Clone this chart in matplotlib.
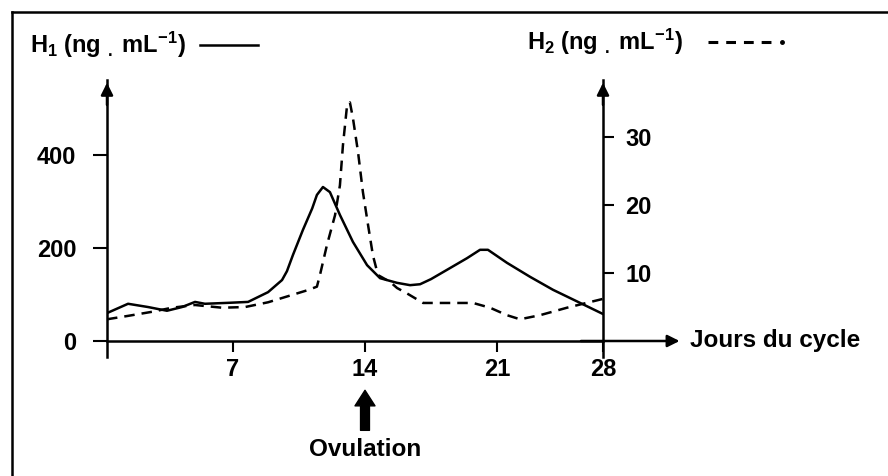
import numpy as np
import matplotlib
matplotlib.use('Agg')
import matplotlib.pyplot as plt
from matplotlib.lines import Line2D

plt.rcParams['font.family'] = ['Liberation Sans', 'DejaVu Sans']
plt.rcParams['font.weight'] = 'bold'
plt.rcParams['mathtext.fontset'] = 'custom'
plt.rcParams['mathtext.rm'] = 'Liberation Sans:bold'
plt.rcParams['mathtext.it'] = 'Liberation Sans:bold'
plt.rcParams['mathtext.bf'] = 'Liberation Sans:bold'

# jours du cycle -> H1 (courbe continue, axe gauche)
h1_days = [0, 1.17, 2.28, 3.33, 4.17, 4.89, 5.44, 6.72, 7.8, 8.86, 9.6, 9.86,
           10.18, 10.71, 11.2, 11.45, 11.77, 12.14, 12.67, 13.36, 14.11, 14.8,
           15.7, 16.39, 16.92, 17.5, 18.35, 19.41, 20.1, 20.52, 21.66, 23.18,
           24.7, 26.48, 28]
h1_vals = [60, 80, 73, 65, 73, 84, 80, 82, 84, 105, 131, 150,
           185, 239, 285, 314, 331, 320, 271, 213, 163, 135,
           125, 120, 122, 133, 153, 178, 196, 196, 168, 138,
           110, 82, 58]

# H2 (courbe pointillee, axe droit)
h2_days = [0, 1.17, 2.5, 3.61, 4.89, 6.39, 7.64, 8.86, 9.92, 10.98, 11.45,
           11.61, 11.98, 12.41, 12.67, 12.83, 13.05, 13.2, 13.36, 13.63,
           13.89, 14.16, 14.42, 14.69, 15.33, 15.7, 16.23, 17.08, 19.73,
           20.63, 21.66, 22.52, 23.84, 25.62, 28]
h2_vals = [3.2, 3.7, 4.3, 4.9, 5.3, 4.9, 5.0, 5.7, 6.6, 7.5, 8.0,
           9.7, 14.1, 18.5, 22.9, 28.8, 34.7, 35.1, 32.8, 27.8,
           21.9, 17.1, 12.6, 9.7, 8.7, 7.8, 7.0, 5.6, 5.6,
           4.9, 3.8, 3.2, 3.8, 4.9, 6.2]

x_ticks = [7, 14, 21, 28]
h1_ticks = [0, 200, 400]
h2_ticks = [10, 20, 30]

# l'axe des jours du document n'est pas tout a fait regulier
tick_days = [0, 7, 14, 21, 28]
tick_pos = [0, 126, 258, 390, 496]
def fwd(x):
    return np.interp(x, tick_days, tick_pos)
def inv(x):
    return np.interp(x, tick_pos, tick_days)

fig = plt.figure(figsize=(8.88, 4.76), dpi=100)
ax = fig.add_axes([107 / 888, (476 - 357) / 476, 496 / 888, (357 - 80) / 476])
ax.set_xscale('function', functions=(fwd, inv))
ax.set_xlim(0, 28)
ax.set_ylim(-34.4, 561)

ax2 = ax.twinx()
ax2.set_ylim(-2.35, 38.4)

lw = 1.8
ax.plot(h1_days, h1_vals, color='black', lw=lw, solid_joinstyle='round')
ax2.plot(h2_days, h2_vals, color='black', lw=lw, dashes=(4.2, 2.8),
         dash_joinstyle='round')

for a in (ax, ax2):
    a.spines['top'].set_visible(False)
    a.patch.set_visible(False)
ax.spines['right'].set_visible(False)
ax2.spines['left'].set_visible(False)
ax2.spines['bottom'].set_visible(False)
ax.spines['bottom'].set_position(('data', 0))
for s in ('left', 'bottom'):
    ax.spines[s].set_linewidth(1.8)
ax2.spines['right'].set_linewidth(1.8)

ax.set_xticks(x_ticks)
ax.set_xticklabels([str(t) for t in x_ticks])
ax.set_yticks(h1_ticks)
ax2.set_yticks(h2_ticks)
ax.tick_params(axis='x', direction='out', length=8, width=1.5, pad=4, labelsize=17)
ax.tick_params(axis='y', direction='out', length=10, width=1.5, pad=12, labelsize=17)
ax2.tick_params(axis='y', direction='out', length=8, width=1.5, pad=8, labelsize=17)
for lab in ax.get_xticklabels() + ax.get_yticklabels() + ax2.get_yticklabels():
    lab.set_fontweight('bold')

# fleches des axes
arrow = dict(arrowstyle='-|>', color='black', lw=1.8, mutation_scale=18)
ax.annotate('', xy=(0, 1.0), xytext=(0, 0.9), xycoords='axes fraction', arrowprops=arrow)
ax.annotate('', xy=(1, 1.0), xytext=(1, 0.9), xycoords='axes fraction', arrowprops=arrow)
ax.annotate('', xy=(1.16, 0), xytext=(0.95, 0),
            xycoords=('axes fraction', 'data'), arrowprops=arrow)
ax.text(1.175, 0, 'Jours du cycle', transform=ax.get_yaxis_transform(),
        ha='left', va='center', fontsize=17.5, fontweight='bold')

# ovulation
ax.annotate('', xy=(14, -100), xytext=(14, -198), annotation_clip=False,
            arrowprops=dict(arrowstyle='simple,head_width=0.9,head_length=0.7,tail_width=0.4',
                            mutation_scale=16, fc='black', ec='black'))
ax.text(14, -234, 'Ovulation', ha='center', va='center', fontsize=17.5,
        fontweight='bold', clip_on=False)

# legendes des axes
fig.text(30 / 888, 1 - 45 / 476, r'H$_1$ (ng $_.$ mL$^{-1}$)', fontsize=17,
         fontweight='bold', va='center', ha='left')
fig.text(527 / 888, 1 - 42 / 476, r'H$_2$ (ng $_.$ mL$^{-1}$)', fontsize=17,
         fontweight='bold', va='center', ha='left')
fig.add_artist(Line2D([200 / 888, 258 / 888], [1 - 45 / 476] * 2, color='black', lw=1.8))
fig.add_artist(Line2D([708 / 888, 772 / 888], [1 - 42 / 476] * 2, color='black', lw=2.2,
                      dashes=(3.2, 2.6)))
fig.add_artist(Line2D([782 / 888], [1 - 42 / 476], color='black', marker='o', ms=2.5, lw=0))

# cadre du document
fig.add_artist(Line2D([12 / 888, 1], [1 - 12 / 476] * 2, color='black', lw=1.8))
fig.add_artist(Line2D([12 / 888, 12 / 888], [0, 1 - 12 / 476], color='black', lw=1.8))

fig.savefig('out.png', dpi=100)
